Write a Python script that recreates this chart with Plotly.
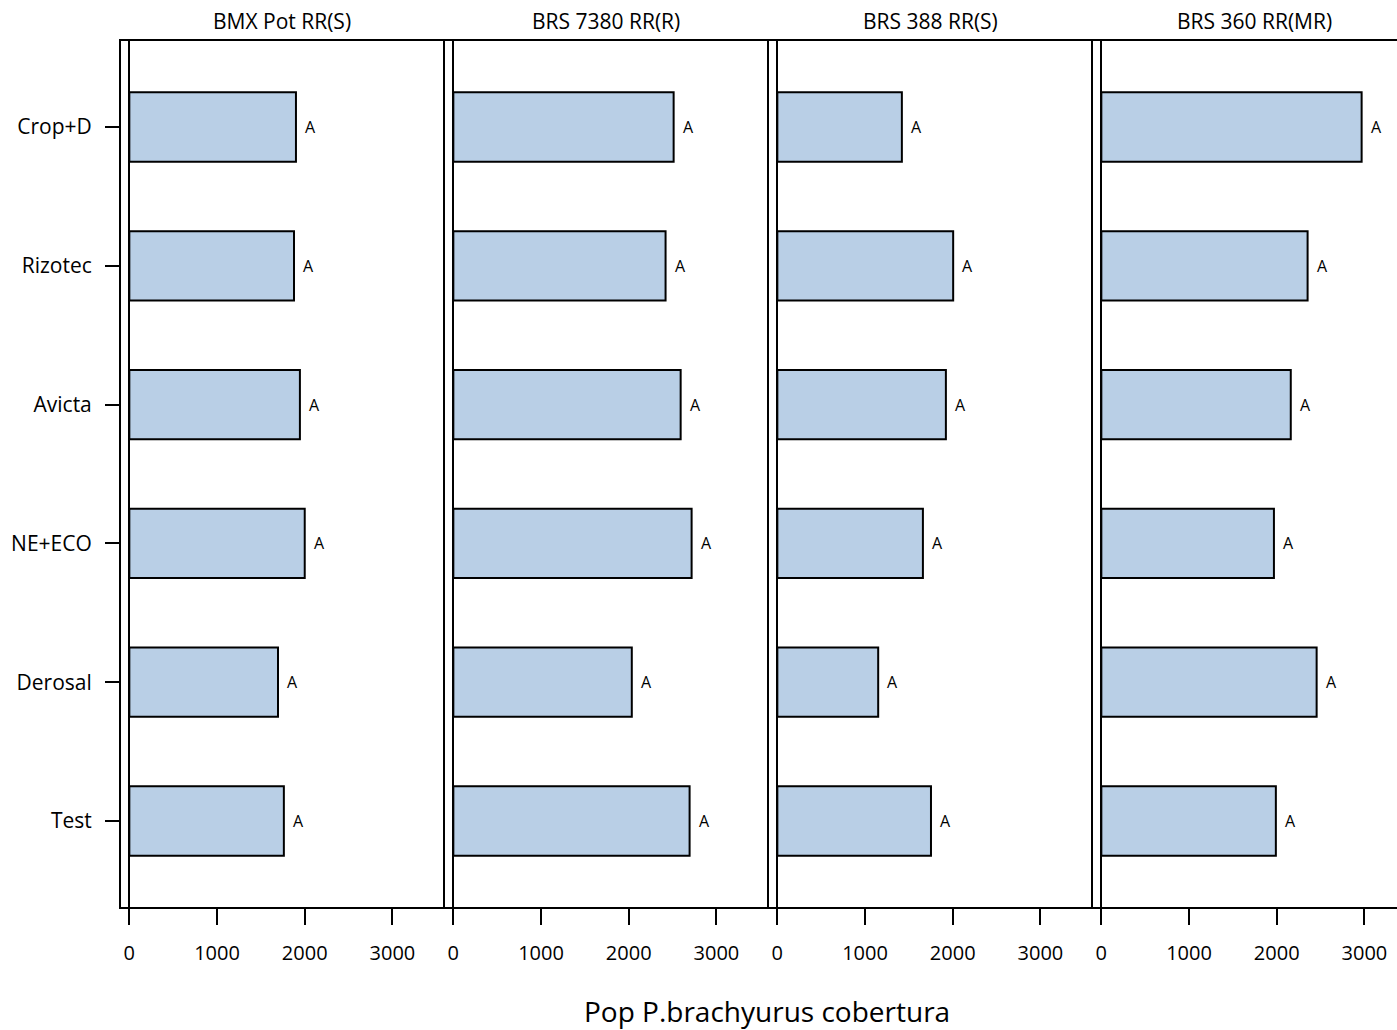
import plotly.graph_objects as go

W, H = 1397, 1030

treatments = ["Crop+D", "Rizotec", "Avicta", "NE+ECO", "Derosal", "Test"]
cultivars = ["BMX Pot RR(S)", "BRS 7380 RR(R)", "BRS 388 RR(S)", "BRS 360 RR(MR)"]
bmx_pot = [1900, 1878, 1945, 2000, 1695, 1762]
brs_7380 = [2512, 2420, 2592, 2717, 2035, 2694]
brs_388 = [1420, 2005, 1922, 1660, 1150, 1752]
brs_360 = [2968, 2352, 2160, 1968, 2455, 1990]
letters_bmx = ["A"] * 6
letters_7380 = ["A"] * 6
letters_388 = ["A"] * 6
letters_360 = ["A"] * 6
x_ticks = [0, 1000, 2000, 3000]
x_title = "Pop P.brachyurus cobertura"

series = [bmx_pot, brs_7380, brs_388, brs_360]
letters = [letters_bmx, letters_7380, letters_388, letters_360]

FONT = "Open Sans"
fig = go.Figure()

px_per_unit = 322.3 / 3675.0
panel_left = [121, 445, 769, 1093]
panel_w = 322.3
y_top, y_bot = 41, 907

for i, (vals, lets, name) in enumerate(zip(series, letters, cultivars)):
    n = i + 1
    xa = "x" if n == 1 else f"x{n}"
    ya = "y" if n == 1 else f"y{n}"
    fig.add_trace(go.Bar(
        x=vals, y=treatments, orientation="h", width=0.5,
        marker=dict(color="rgb(185,207,230)", line=dict(color="black", width=2)),
        xaxis=xa, yaxis=ya, showlegend=False, hoverinfo="x+y",
    ))
    for v, t, l in zip(vals, treatments, lets):
        fig.add_annotation(x=v, y=t, xref=xa, yref=ya, text=l, showarrow=False,
                           xanchor="left", yanchor="middle", xshift=7,
                           font=dict(family=FONT, size=16, color="black"))
    left = panel_left[i]
    right = min(left + panel_w, W)
    x0 = -95
    x1 = x0 + (right - left) / px_per_unit
    xkey = "xaxis" if n == 1 else f"xaxis{n}"
    ykey = "yaxis" if n == 1 else f"yaxis{n}"
    fig.layout[xkey] = dict(
        domain=[left / W, right / W], range=[x0, x1], anchor=ya,
        tickvals=x_ticks, ticks="outside", ticklen=16, tickwidth=2, tickcolor="black",
        showline=True, mirror=True, linecolor="black", linewidth=2,
        zeroline=True, zerolinecolor="black", zerolinewidth=2,
        showgrid=False, tickfont=dict(family=FONT, size=20, color="black"),
        ticklabelstandoff=11,
    )
    fig.layout[ykey] = dict(
        domain=[1 - y_bot / H, 1 - y_top / H], anchor=xa,
        type="category", categoryorder="array", categoryarray=treatments,
        range=[5.62, -0.62],
        showline=True, mirror=(n < 4), linecolor="black", linewidth=2,
        showgrid=False, zeroline=False,
        ticks="outside" if n == 1 else "", ticklen=14, tickwidth=2, tickcolor="black",
        showticklabels=(n == 1), tickfont=dict(family=FONT, size=21, color="black"),
        ticklabelstandoff=9,
    )
    fig.add_annotation(x=(left + panel_w / 2) / W, y=1 - 21 / H, xref="paper", yref="paper",
                       text=name, showarrow=False, xanchor="center", yanchor="middle",
                       font=dict(family=FONT, size=21, color="black"))

fig.add_annotation(x=767.5 / W, y=1 - 1011 / H, xref="paper", yref="paper",
                   text=x_title, showarrow=False, xanchor="center", yanchor="middle",
                   font=dict(family=FONT, size=28, color="black"))

fig.update_layout(width=W, height=H, margin=dict(l=0, r=0, t=0, b=0),
                  plot_bgcolor="white", paper_bgcolor="white",
                  font=dict(family=FONT, color="black"))

fig.write_html("out.html", config={"displayModeBar": False},
               post_script="document.body.style.margin='0';document.body.style.overflow='hidden';")
